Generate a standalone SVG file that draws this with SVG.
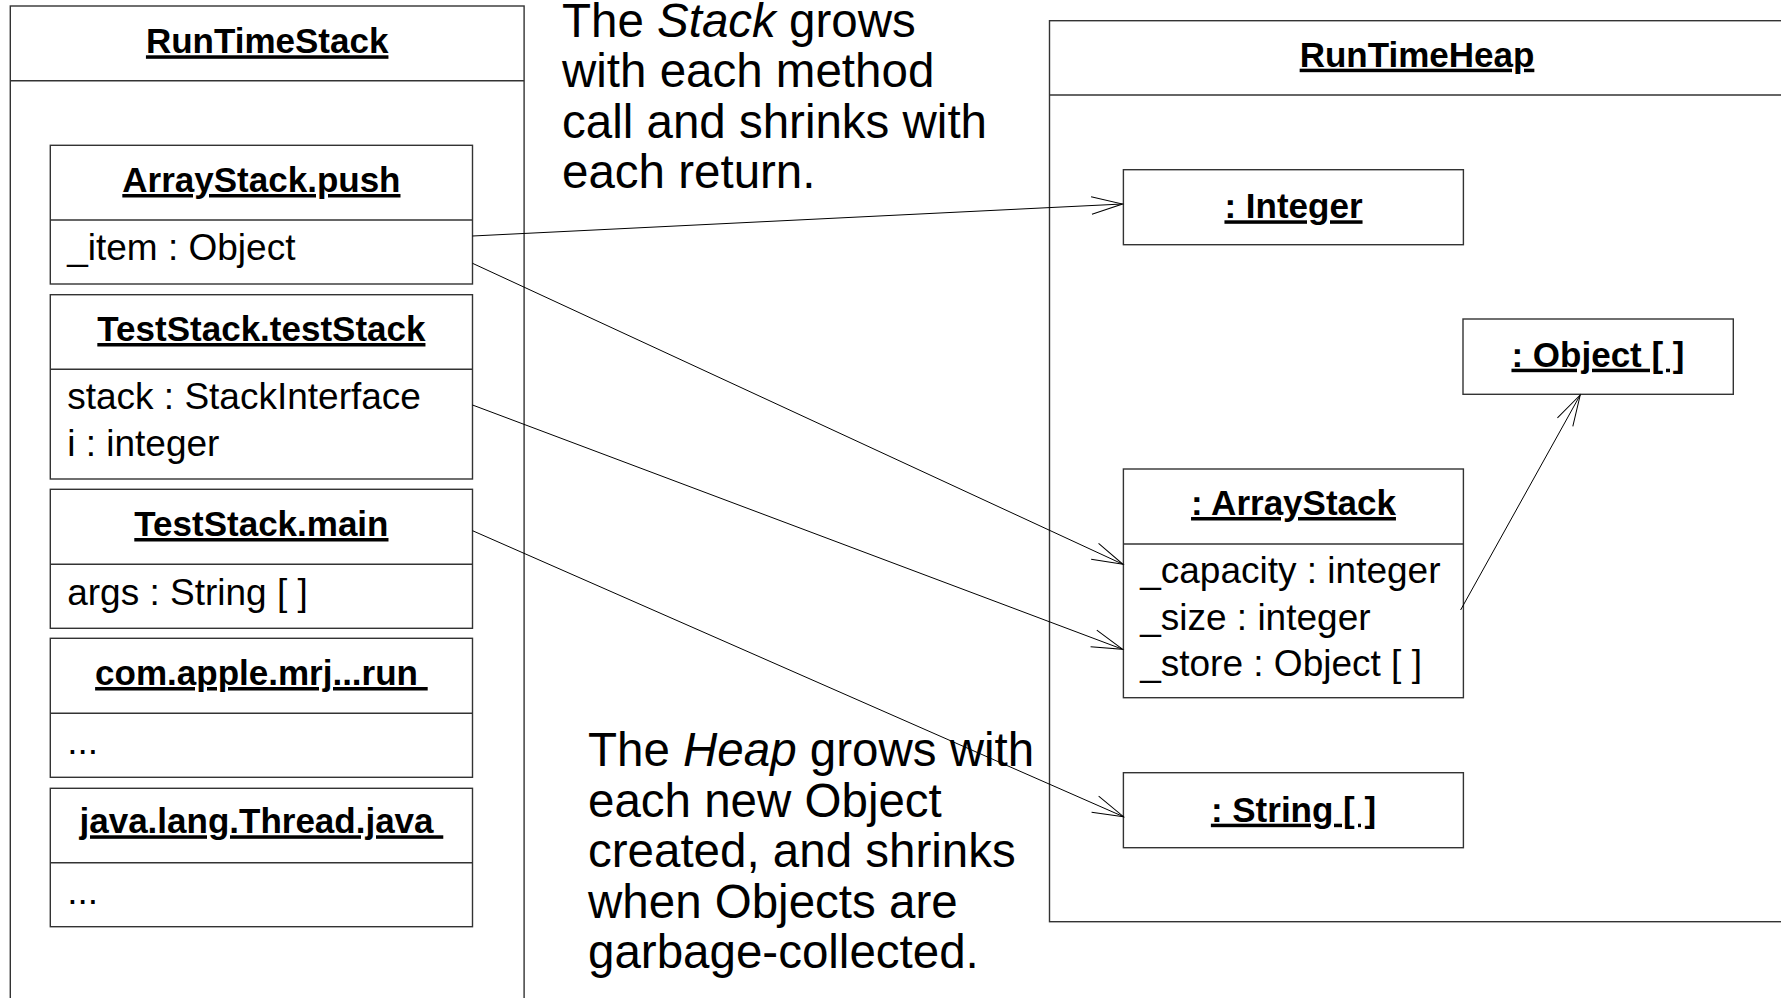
<svg xmlns="http://www.w3.org/2000/svg" width="1781" height="998" viewBox="0 0 1781 998">
<style>
.box{fill:#fff;stroke:#333;stroke-width:1.4}
.line{stroke:#333;stroke-width:1.4}
.title{font-family:"Liberation Sans",Arial,sans-serif;font-weight:bold;font-size:35px;text-anchor:middle;text-decoration:underline;fill:#000}
.attr{font-family:"Liberation Sans",Arial,sans-serif;font-size:37px;fill:#000}
.note{font-family:"Liberation Sans",Arial,sans-serif;font-size:47.5px;fill:#000}
.conn{stroke:#000;stroke-width:1;fill:none;marker-end:url(#open)}
</style>
<defs>
<marker id="open" viewBox="-33 -10 35 20" refX="0" refY="0" markerWidth="35" markerHeight="20" markerUnits="userSpaceOnUse" orient="auto">
<path d="M-31,-8.8 L0,0 L-31,8.8" fill="none" stroke="#000" stroke-width="1"/>
</marker>
</defs>
<rect width="1781" height="998" fill="#fff"/>

<g id="RunTimeStack">
<rect class="box" x="10.3" y="6" width="513.8" height="1100"/>
<line class="line" x1="10.3" y1="80.7" x2="524.1" y2="80.7"/>
<text class="title" x="267.2" y="53.3">RunTimeStack</text>
</g>

<g id="ArrayStack.push">
<rect class="box" x="50.3" y="145.3" width="422.2" height="138.7"/>
<line class="line" x1="50.3" y1="220" x2="472.5" y2="220"/>
<text class="title" x="261.4" y="192">ArrayStack.push</text>
<text class="attr" x="67.2" y="260">_item : Object</text>
</g>

<g id="TestStack.testStack">
<rect class="box" x="50.3" y="294.7" width="422.2" height="184.3"/>
<line class="line" x1="50.3" y1="369.3" x2="472.5" y2="369.3"/>
<text class="title" x="261.4" y="341">TestStack.testStack</text>
<text class="attr" x="67.2" y="409.3">stack : StackInterface</text>
<text class="attr" x="67.2" y="455.7">i : integer</text>
</g>

<g id="TestStack.main">
<rect class="box" x="50.3" y="489.3" width="422.2" height="139"/>
<line class="line" x1="50.3" y1="564.3" x2="472.5" y2="564.3"/>
<text class="title" x="261.4" y="536">TestStack.main</text>
<text class="attr" x="67.2" y="604.5">args : String [ ]</text>
</g>

<g id="com.apple.mrj.run">
<rect class="box" x="50.3" y="638.3" width="422.2" height="139"/>
<line class="line" x1="50.3" y1="713.3" x2="472.5" y2="713.3"/>
<text class="title" x="261.4" y="685">com.apple.mrj...run&#160;</text>
<text class="attr" x="67.2" y="754">...</text>
</g>

<g id="java.lang.Thread.java">
<rect class="box" x="50.3" y="788.3" width="422.2" height="138.4"/>
<line class="line" x1="50.3" y1="862.7" x2="472.5" y2="862.7"/>
<text class="title" x="261.4" y="833.3">java.lang.Thread.java&#160;</text>
<text class="attr" x="67.2" y="904">...</text>
</g>

<g id="stack-note">
<text class="note" x="562" y="37">The <tspan font-style="italic">Stack</tspan> grows</text>
<text class="note" x="562" y="87.4">with each method</text>
<text class="note" x="562" y="137.8">call and shrinks with</text>
<text class="note" x="562" y="188.2">each return.</text>
</g>

<g id="RunTimeHeap">
<rect class="box" x="1049.5" y="20.7" width="800" height="901"/>
<line class="line" x1="1049.5" y1="95" x2="1781" y2="95"/>
<text class="title" x="1417" y="66.7">RunTimeHeap</text>
</g>

<g id="Integer">
<rect class="box" x="1123.4" y="169.7" width="340" height="75"/>
<text class="title" x="1293.5" y="218.3">: Integer</text>
</g>

<g id="ObjectArray">
<rect class="box" x="1463" y="319" width="270.3" height="75.3"/>
<text class="title" x="1598" y="366.7">: Object [ ]</text>
</g>

<g id="ArrayStack">
<rect class="box" x="1123.4" y="469" width="340" height="228.7"/>
<line class="line" x1="1123.4" y1="544" x2="1463.4" y2="544"/>
<text class="title" x="1293.5" y="515">: ArrayStack</text>
<text class="attr" x="1140.2" y="583">_capacity : integer</text>
<text class="attr" x="1140.2" y="629.5">_size : integer</text>
<text class="attr" x="1140.2" y="675.5">_store : Object [ ]</text>
</g>

<g id="StringArray">
<rect class="box" x="1123.4" y="772.7" width="340" height="75"/>
<text class="title" x="1293.5" y="821.7">: String [ ]</text>
</g>

<g id="heap-note">
<text class="note" x="588" y="766">The <tspan font-style="italic">Heap</tspan> grows with</text>
<text class="note" x="588" y="816.5">each new Object</text>
<text class="note" x="588" y="867">created, and shrinks</text>
<text class="note" x="588" y="917.5">when Objects are</text>
<text class="note" x="588" y="968">garbage-collected.</text>
</g>

<g id="connectors">
<path class="conn" d="M472.5,236 L1122.5,204"/>
<path class="conn" d="M472.5,263.3 L1123,564.3"/>
<path class="conn" d="M472.5,405 L1122.7,649.3"/>
<path class="conn" d="M472.5,530.7 L1123.5,816.7"/>
<path class="conn" d="M1460.6,610 L1580.2,395"/>
</g>
</svg>
